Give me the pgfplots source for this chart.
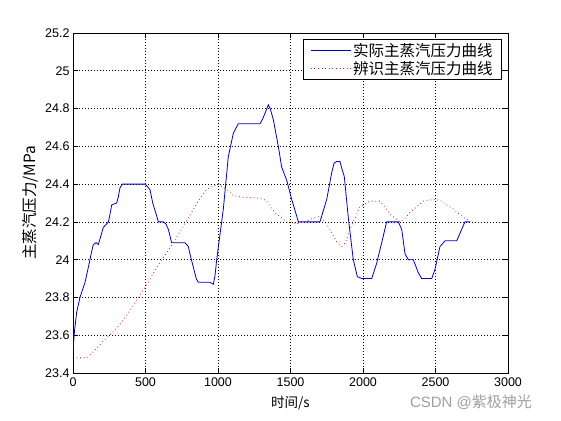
\documentclass[border=0pt]{standalone}
\usepackage{fontspec}
\setmainfont{Liberation Sans}
\newfontfamily\cjk{Noto Sans CJK SC}
\usepackage{pgfplots}
\pgfplotsset{compat=1.18}
\definecolor{mblue}{RGB}{0,0,190}
\definecolor{mred}{RGB}{225,20,20}
\definecolor{wm}{RGB}{160,160,160}
\begin{document}
\begin{tikzpicture}
\useasboundingbox[fill=white] (0,0) rectangle (561pt,420pt);
\begin{axis}[
  at={(73pt,47pt)}, anchor=south west,
  scale only axis, width=435pt, height=340pt,
  xmin=0, xmax=3000, ymin=23.4, ymax=25.2,
  xtick={0,500,1000,1500,2000,2500,3000},
  xticklabels={0,500,1000,1500,2000,2500,3000},
  ytick={23.4,23.6,23.8,24,24.2,24.4,24.6,24.8,25,25.2},
  yticklabels={23.4,23.6,23.8,24,24.2,24.4,24.6,24.8,25,25.2},
  tick align=inside, xtick pos=both, ytick pos=both,
  major tick length=5pt,
  tick style={black, line width=0.6pt},
  axis line style={black, line width=0.9pt},
  grid=major,
  grid style={black, line width=0.6pt, dash pattern=on 0.6pt off 2.4pt},
  /pgf/number format/assume math mode=true,
  ticklabel style={font=\fontsize{12.5}{14}\selectfont},
  xticklabel style={yshift=-1pt},
  xlabel={\cjk 时间/s},
  ylabel={\cjk 主蒸汽压力/MPa},
  xlabel style={at={(axis description cs:0.5,0)}, anchor=center, yshift=-30pt, font=\fontsize{13.5}{15}\selectfont},
  ylabel style={at={(axis description cs:-0.0989,0.5)}, anchor=center, font=\fontsize{15.5}{17}\selectfont},
  legend cell align=left,
  legend style={at={(1,1)}, anchor=north east, xshift=-6pt, yshift=-6pt,
    draw=black, line width=0.8pt, inner xsep=7pt, inner ysep=1.5pt,
    font=\cjk\fontsize{15.5}{18}\selectfont, row sep=0pt},
  legend image code/.code={\draw[#1] (0pt,0pt) -- (40pt,0pt);},
]
\addplot[mblue, line width=0.8pt] coordinates {
(0,23.52) (10,23.62) (25,23.72) (48,23.80) (83,23.88) (106,23.96) (125,24.03)
(140,24.08) (160,24.09) (175,24.08) (190,24.12) (209,24.17) (244,24.20)
(255,24.24) (267,24.29) (301,24.30) (312,24.33) (324,24.38) (340,24.40)
(359,24.40) (497,24.40) (510,24.39) (531,24.37) (550,24.30) (566,24.26)
(589,24.20) (623,24.20) (640,24.19) (658,24.16) (680,24.09) (772,24.09)
(795,24.07) (810,24.02) (830,23.96) (850,23.90) (864,23.88) (945,23.88)
(968,23.87) (980,23.92) (991,24.00) (1037,24.27) (1071,24.545) (1106,24.67)
(1140,24.72) (1290,24.72) (1305,24.74) (1324,24.775) (1347,24.82) (1360,24.80)
(1382,24.74) (1416,24.60) (1439,24.49) (1474,24.42) (1508,24.32) (1543,24.23)
(1554,24.20) (1703,24.20) (1750,24.32) (1784,24.46) (1800,24.51) (1818,24.52)
(1841,24.52) (1855,24.48) (1871,24.44) (1899,24.22) (1933,24.00) (1961,23.91)
(1991,23.90) (2060,23.90) (2094,23.98) (2129,24.09) (2163,24.20) (2244,24.20)
(2267,24.16) (2290,24.03) (2313,24.00) (2347,24.00) (2382,23.93) (2405,23.90)
(2474,23.90) (2497,23.95) (2531,24.07) (2566,24.10) (2646,24.10) (2669,24.14)
(2703,24.20) (2738,24.20)
};
\addlegendentry{实际主蒸汽压力曲线}
\addplot[mred, line width=0.8pt, dash pattern=on 0.8pt off 2.8pt] coordinates {
(25,23.48) (94,23.48) (150,23.52) (209,23.57) (280,23.62) (347,23.68)
(400,23.74) (451,23.80) (520,23.88) (577,23.96) (640,24.03) (715,24.12)
(780,24.20) (841,24.28) (876,24.325) (920,24.37) (968,24.39) (1002,24.40)
(1040,24.38) (1083,24.36) (1106,24.34) (1175,24.33) (1301,24.325) (1336,24.31)
(1370,24.27) (1405,24.24) (1440,24.22) (1474,24.20) (1543,24.19) (1600,24.20)
(1657,24.22) (1703,24.23) (1740,24.20) (1772,24.16) (1818,24.095) (1853,24.07)
(1880,24.09) (1910,24.16) (1956,24.24) (1979,24.28) (2048,24.31) (2117,24.31)
(2150,24.28) (2186,24.24) (2255,24.20) (2290,24.22) (2324,24.25) (2370,24.28)
(2416,24.31) (2497,24.32) (2540,24.31) (2577,24.29) (2620,24.27) (2657,24.245)
(2700,24.22) (2726,24.21)
};
\addlegendentry{辨识主蒸汽压力曲线}
\end{axis}
\node[wm, font=\fontsize{15}{17}\selectfont] at (471pt,18pt) {CSDN @{\cjk 紫极神光}};
\end{tikzpicture}
\end{document}
